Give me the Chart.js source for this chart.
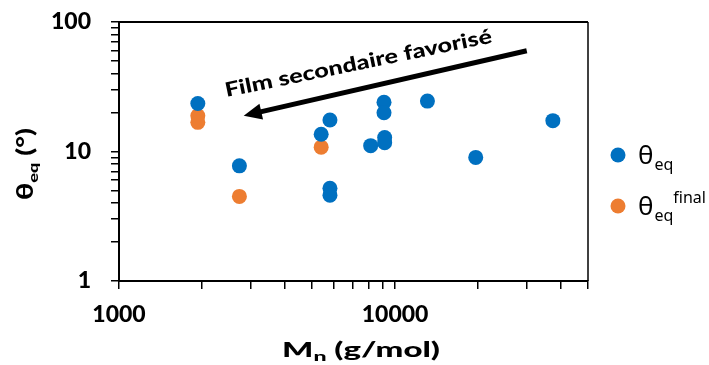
<!DOCTYPE html>
<html>
<head>
<meta charset="utf-8">
<script src="https://cdn.jsdelivr.net/npm/chart.js@4.4.1/dist/chart.umd.min.js"></script>
<style>
  body { margin: 0; background: #ffffff; }
</style>
</head>
<body>
<canvas id="chart" width="709" height="365"></canvas>
<script>
// data
const mn_eq = [1930, 2730, 5400, 5810, 5810, 5810, 8160, 9120, 9120, 9170, 9170, 13100, 19600, 37300];
const theta_eq = [23.5, 7.75, 13.6, 17.5, 5.2, 4.6, 11.1, 24.0, 19.9, 12.8, 11.7, 24.5, 9.0, 17.3];
const mn_final = [1930, 1930, 2730, 5400];
const theta_final = [18.9, 16.8, 4.5, 10.8];

const x_ticks = [1000, 2000, 3000, 4000, 5000, 6000, 7000, 8000, 9000, 10000, 20000, 30000, 40000, 50000];
const y_ticks = [1, 2, 3, 4, 5, 6, 7, 8, 9, 10, 20, 30, 40, 50, 60, 70, 80, 90, 100];

// arrow annotation (in data units)
const arrow_from = [30000, 60];
const arrow_to = [2830, 18.9];
const arrow_text = "Film secondaire favorisé";
const text_at = [2450, 26.3];

const blue = '#0070C0';
const orange = '#ED7D31';
const boldFont = "Lato, 'Noto Sans', sans-serif";
const legendFont = "'Noto Sans', 'Liberation Sans', sans-serif";

function pow10Label(v) {
    const l = Math.log10(v);
    return Math.abs(l - Math.round(l)) < 1e-9 ? String(v) : '';
}

// draws text pieces with sub/superscripts, returns width
function drawRich(ctx, parts, x, y, measureOnly) {
    let cx = x;
    for (const p of parts) {
        ctx.font = p.font;
        if (!measureOnly) ctx.fillText(p.t, cx, y + (p.dy || 0));
        cx += ctx.measureText(p.t).width;
    }
    return cx - x;
}

// rich text stretched to a given width, centred on cx
function drawRichFit(ctx, parts, cx, y, width) {
    const w = drawRich(ctx, parts, 0, 0, true);
    const k = width / w;
    ctx.save();
    ctx.translate(cx - width / 2, y);
    ctx.scale(k, 1);
    drawRich(ctx, parts, 0, 0);
    ctx.restore();
}

const extras = {
    id: 'extras',
    afterDraw(chart) {
        const {ctx, chartArea, scales} = chart;
        const xs = scales.x, ys = scales.y;
        ctx.save();

        // top and right frame
        ctx.strokeStyle = '#000';
        ctx.lineWidth = 2;
        ctx.beginPath();
        ctx.moveTo(chartArea.left, chartArea.top);
        ctx.lineTo(chartArea.right, chartArea.top);
        ctx.stroke();
        ctx.lineWidth = 1.5;
        ctx.beginPath();
        ctx.moveTo(chartArea.right, chartArea.top);
        ctx.lineTo(chartArea.right, chartArea.bottom);
        ctx.stroke();

        // arrow
        const x1 = xs.getPixelForValue(arrow_from[0]), y1 = ys.getPixelForValue(arrow_from[1]);
        const x2 = xs.getPixelForValue(arrow_to[0]), y2 = ys.getPixelForValue(arrow_to[1]);
        const ang = Math.atan2(y2 - y1, x2 - x1);
        const headLen = 18, headW = 8;
        ctx.lineWidth = 5;
        ctx.beginPath();
        ctx.moveTo(x1, y1);
        ctx.lineTo(x2 - Math.cos(ang) * (headLen - 2), y2 - Math.sin(ang) * (headLen - 2));
        ctx.stroke();
        ctx.fillStyle = '#000';
        ctx.beginPath();
        ctx.moveTo(x2, y2);
        ctx.lineTo(x2 - Math.cos(ang) * headLen + Math.sin(ang) * headW, y2 - Math.sin(ang) * headLen - Math.cos(ang) * headW);
        ctx.lineTo(x2 - Math.cos(ang) * headLen - Math.sin(ang) * headW, y2 - Math.sin(ang) * headLen + Math.cos(ang) * headW);
        ctx.closePath();
        ctx.fill();

        // arrow text, stretched along its baseline
        ctx.save();
        ctx.translate(xs.getPixelForValue(text_at[0]), ys.getPixelForValue(text_at[1]));
        ctx.rotate(-11.6 * Math.PI / 180);
        ctx.font = '900 20px ' + boldFont;
        ctx.textBaseline = 'alphabetic';
        ctx.textAlign = 'left';
        const tw = ctx.measureText(arrow_text).width;
        ctx.scale(272 / tw, 1);
        ctx.fillText(arrow_text, 0, 0);
        ctx.restore();

        // x title
        ctx.fillStyle = '#000';
        ctx.textBaseline = 'alphabetic';
        ctx.textAlign = 'left';
        const xParts = [
            {t: 'M', font: '900 20px ' + boldFont},
            {t: 'n', font: '900 14px ' + boldFont, dy: 4},
            {t: ' (g/mol)', font: '900 20px ' + boldFont}
        ];
        drawRichFit(ctx, xParts, 361, 357, 158);

        // y title
        ctx.save();
        ctx.translate(33, 0);
        ctx.rotate(-Math.PI / 2);
        const yParts = [
            {t: 'θ', font: '900 22px ' + boldFont},
            {t: 'eq', font: '900 14px ' + boldFont, dy: 5},
            {t: ' (°)', font: '900 22px ' + boldFont}
        ];
        drawRichFit(ctx, yParts, -164, 0, 72);
        ctx.restore();

        // legend
        const lx = 618;
        const rows = [
            {y: 155, color: blue, parts: [
                {t: 'θ', font: '26px ' + legendFont},
                {t: 'eq', font: '16px ' + legendFont, dy: 6}
            ]},
            {y: 206, color: orange, parts: [
                {t: 'θ', font: '26px ' + legendFont},
                {t: 'eq', font: '16px ' + legendFont, dy: 6},
                {t: 'final', font: '16px ' + legendFont, dy: -12}
            ]}
        ];
        for (const r of rows) {
            ctx.fillStyle = r.color;
            ctx.beginPath();
            ctx.arc(lx, r.y, 7.5, 0, Math.PI * 2);
            ctx.fill();
            ctx.fillStyle = '#000';
            // superscript sits right after the subscript
            let cx = lx + 20;
            ctx.font = r.parts[0].font;
            ctx.fillText(r.parts[0].t, cx, r.y + 9);
            cx += ctx.measureText(r.parts[0].t).width + 1;
            ctx.font = r.parts[1].font;
            ctx.fillText(r.parts[1].t, cx, r.y + 9 + r.parts[1].dy);
            if (r.parts[2]) {
                const sw = ctx.measureText(r.parts[1].t).width;
                ctx.font = r.parts[2].font;
                ctx.fillText(r.parts[2].t, cx + sw, r.y + 9 + r.parts[2].dy);
            }
        }
        ctx.restore();
    }
};

const axisCommon = {
    type: 'logarithmic',
    border: {display: true, color: '#000', width: 2},
    grid: {
        display: true,
        drawOnChartArea: false,
        drawTicks: true,
        tickLength: 8,
        color: '#000',
        lineWidth: 1.5
    }
};

new Chart(document.getElementById('chart').getContext('2d'), {
    type: 'scatter',
    data: {
        datasets: [
            {
                label: 'θeq',
                data: mn_eq.map((m, i) => ({x: m, y: theta_eq[i]})),
                backgroundColor: blue,
                borderColor: blue,
                pointRadius: 7.5,
                pointBorderWidth: 0
            },
            {
                label: 'θeq final',
                data: mn_final.map((m, i) => ({x: m, y: theta_final[i]})),
                backgroundColor: orange,
                borderColor: orange,
                pointRadius: 7.5,
                pointBorderWidth: 0
            }
        ]
    },
    options: {
        responsive: false,
        animation: false,
        layout: {padding: {left: 0, right: 121, top: 22, bottom: 0}},
        scales: {
            x: Object.assign({}, axisCommon, {
                min: 1000,
                max: 50000,
                afterBuildTicks: (s) => { s.ticks = x_ticks.map(v => ({value: v})); },
                afterFit: (s) => { s.height = 84; s.paddingLeft = 0; s.paddingRight = 0; },
                ticks: {
                    autoSkip: false,
                    maxRotation: 0,
                    padding: 12,
                    color: '#000',
                    font: {size: 23, weight: '900', family: boldFont},
                    callback: (v) => pow10Label(v)
                }
            }),
            y: Object.assign({}, axisCommon, {
                min: 1,
                max: 100,
                afterBuildTicks: (s) => { s.ticks = y_ticks.map(v => ({value: v})); },
                afterFit: (s) => { s.width = 119; s.paddingTop = 0; s.paddingBottom = 0; },
                ticks: {
                    autoSkip: false,
                    padding: 20,
                    color: '#000',
                    font: {size: 23, weight: '900', family: boldFont},
                    callback: (v) => pow10Label(v)
                }
            })
        },
        plugins: {
            legend: {display: false},
            tooltip: {enabled: false}
        }
    },
    plugins: [extras]
});
</script>
</body>
</html>
